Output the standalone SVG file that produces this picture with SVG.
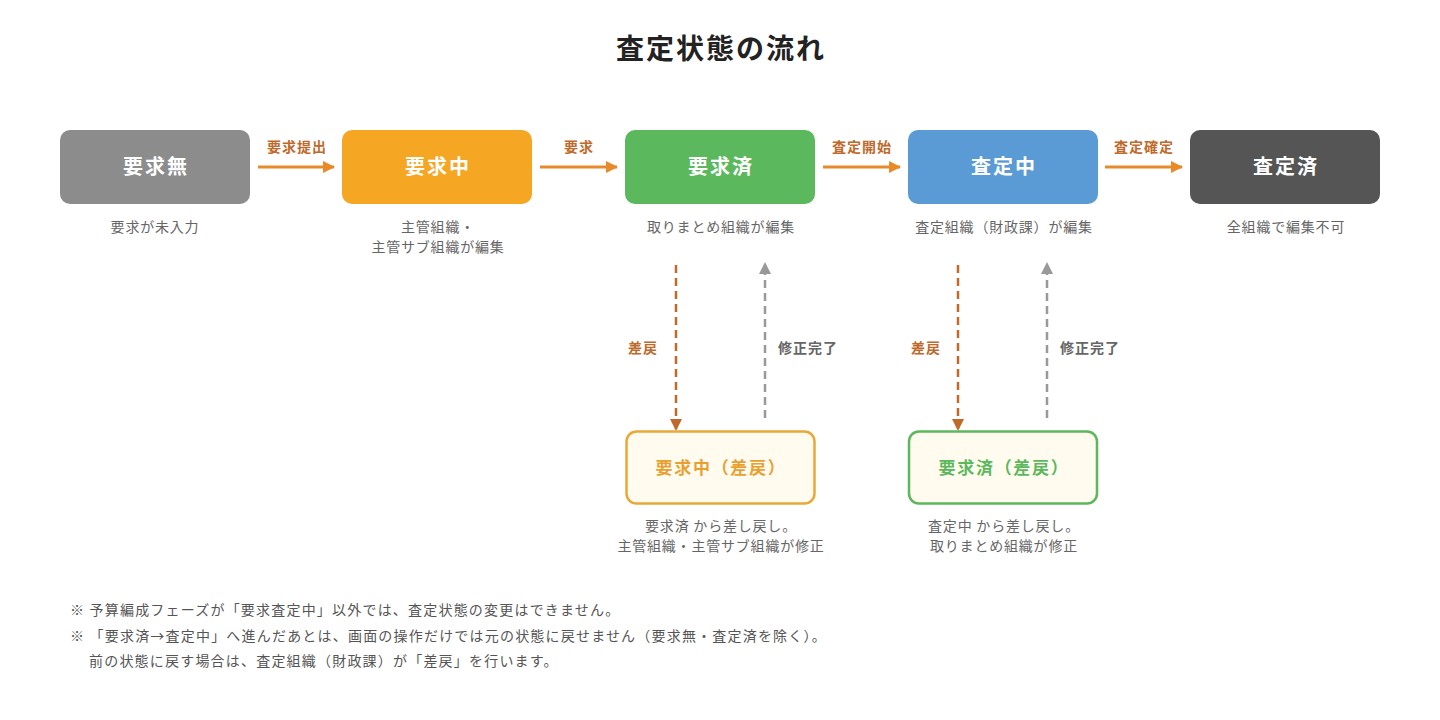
<svg xmlns="http://www.w3.org/2000/svg" width="1440" height="720" viewBox="0 0 1440 720">
<defs>
<style>
text{font-family:"Noto Sans CJK JP","Noto Sans",sans-serif}
.title{font-size:28px;font-weight:700;fill:#222;letter-spacing:2px}
.main{font-size:20px;font-weight:700;fill:#fff;letter-spacing:2px}
.desc{font-size:14px;fill:#666;letter-spacing:0.8px}
.elbl{font-size:14px;font-weight:700;fill:#c0692a;letter-spacing:1px}
.glbl{font-size:14px;font-weight:700;fill:#666;letter-spacing:1px}
.note{font-size:14px;fill:#555;letter-spacing:1.2px}
.sub{font-size:17px;font-weight:700;letter-spacing:1.7px}
.flow{stroke:#e8892a;stroke-width:3;fill:none}
.back{stroke:#c0692a;stroke-width:2.5;stroke-dasharray:8 5;fill:none}
.done{stroke:#999;stroke-width:2.5;stroke-dasharray:8 5;fill:none}
</style>
<marker id="ah" markerWidth="12" markerHeight="12" viewBox="0 0 12 12" refX="11" refY="6" orient="auto" markerUnits="userSpaceOnUse"><path d="M0,0 L12,6 L0,12 Z" fill="#e8892a"/></marker>
<marker id="ahb" markerWidth="12" markerHeight="12" viewBox="0 0 12 12" refX="11" refY="6" orient="auto" markerUnits="userSpaceOnUse"><path d="M0,0 L12,6 L0,12 Z" fill="#c0692a"/></marker>
<marker id="ahg" markerWidth="12" markerHeight="12" viewBox="0 0 12 12" refX="11" refY="6" orient="auto" markerUnits="userSpaceOnUse"><path d="M0,0 L12,6 L0,12 Z" fill="#999"/></marker>
</defs>
<rect width="1440" height="720" fill="#fff"/>
<text class="title" x="721" y="59" text-anchor="middle">査定状態の流れ</text>

<g id="connectors">
<line class="flow" x1="258" y1="167" x2="334" y2="167" marker-end="url(#ah)"/>
<text class="elbl" x="297" y="152" text-anchor="middle">要求提出</text>
<line class="flow" x1="540" y1="167" x2="617" y2="167" marker-end="url(#ah)"/>
<text class="elbl" x="579" y="152" text-anchor="middle">要求</text>
<line class="flow" x1="823" y1="167" x2="900" y2="167" marker-end="url(#ah)"/>
<text class="elbl" x="862" y="152" text-anchor="middle">査定開始</text>
<line class="flow" x1="1105" y1="167" x2="1182" y2="167" marker-end="url(#ah)"/>
<text class="elbl" x="1144" y="152" text-anchor="middle">査定確定</text>

<line class="back" x1="676" y1="265" x2="676" y2="430" marker-end="url(#ahb)"/>
<text class="elbl" x="643" y="353" text-anchor="middle">差戻</text>
<line class="done" x1="765" y1="418" x2="765" y2="263" marker-end="url(#ahg)"/>
<text class="glbl" x="778" y="353">修正完了</text>

<line class="back" x1="958" y1="265" x2="958" y2="430" marker-end="url(#ahb)"/>
<text class="elbl" x="926" y="353" text-anchor="middle">差戻</text>
<line class="done" x1="1047" y1="418" x2="1047" y2="263" marker-end="url(#ahg)"/>
<text class="glbl" x="1060" y="353">修正完了</text>
</g>

<g id="n-none">
<rect x="60" y="130" width="190" height="74" rx="10" fill="#8c8c8c"/>
<text class="main" x="156" y="174" text-anchor="middle">要求無</text>
<text class="desc" x="155" y="232" text-anchor="middle">要求が未入力</text>
</g>
<g id="n-req">
<rect x="342" y="130" width="190" height="74" rx="10" fill="#f5a623"/>
<text class="main" x="438" y="174" text-anchor="middle">要求中</text>
<text class="desc" x="438" y="232" text-anchor="middle">主管組織・</text>
<text class="desc" x="438" y="252" text-anchor="middle">主管サブ組織が編集</text>
</g>
<g id="n-reqdone">
<rect x="625" y="130" width="190" height="74" rx="10" fill="#5cb85c"/>
<text class="main" x="721" y="174" text-anchor="middle">要求済</text>
<text class="desc" x="721" y="232" text-anchor="middle">取りまとめ組織が編集</text>
</g>
<g id="n-assess">
<rect x="908" y="130" width="190" height="74" rx="10" fill="#5b9bd5"/>
<text class="main" x="1004" y="174" text-anchor="middle">査定中</text>
<text class="desc" x="1004" y="232" text-anchor="middle">査定組織（財政課）が編集</text>
</g>
<g id="n-assessdone">
<rect x="1190" y="130" width="190" height="74" rx="10" fill="#555555"/>
<text class="main" x="1286" y="174" text-anchor="middle">査定済</text>
<text class="desc" x="1286" y="232" text-anchor="middle">全組織で編集不可</text>
</g>
<g id="n-req-back">
<rect x="626.5" y="431.5" width="188" height="72" rx="10" fill="#fffbef" stroke="#e8a93a" stroke-width="2.5"/>
<text class="sub" x="721" y="474" text-anchor="middle" fill="#e8a030">要求中（差戻）</text>
<text class="desc" x="721" y="531" text-anchor="middle">要求済 から差し戻し。</text>
<text class="desc" x="721" y="551" text-anchor="middle">主管組織・主管サブ組織が修正</text>
</g>
<g id="n-reqdone-back">
<rect x="909" y="431.5" width="188" height="72" rx="10" fill="#fffbef" stroke="#5cb85c" stroke-width="2.5"/>
<text class="sub" x="1004" y="474" text-anchor="middle" fill="#5cb85c">要求済（差戻）</text>
<text class="desc" x="1004" y="531" text-anchor="middle">査定中 から差し戻し。</text>
<text class="desc" x="1004" y="551" text-anchor="middle">取りまとめ組織が修正</text>
</g>

<g id="notes">
<text class="note" x="70" y="615">※ 予算編成フェーズが「要求査定中」以外では、査定状態の変更はできません。</text>
<text class="note" x="70" y="641">※ 「要求済→査定中」へ進んだあとは、画面の操作だけでは元の状態に戻せません（要求無・査定済を除く）。</text>
<text class="note" x="89" y="666">前の状態に戻す場合は、査定組織（財政課）が「差戻」を行います。</text>
</g>
</svg>
